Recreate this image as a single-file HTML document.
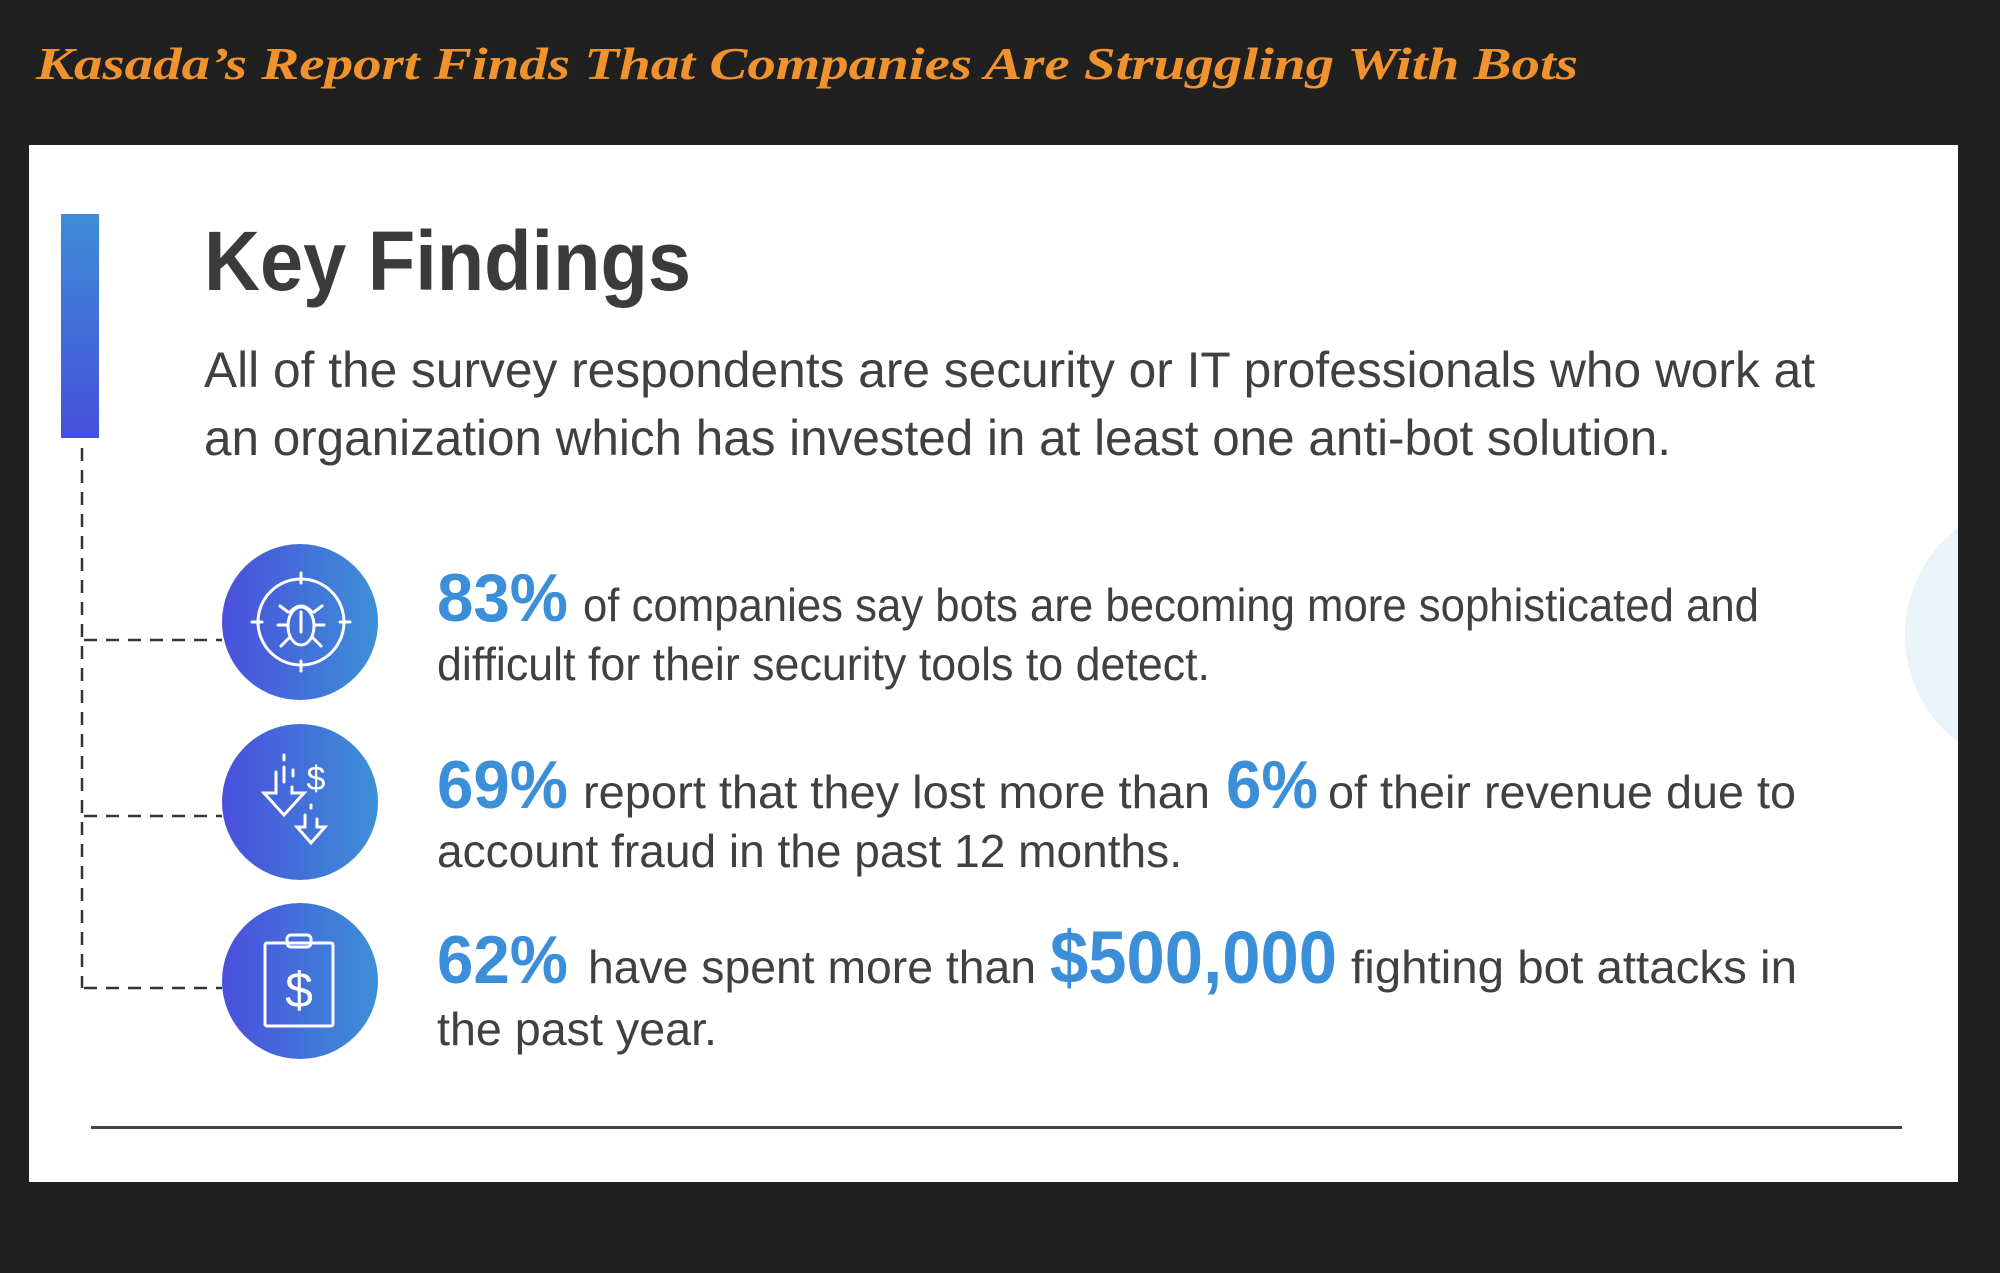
<!DOCTYPE html>
<html><head><meta charset="utf-8"><style>html,body{margin:0;padding:0;background:#1f201f}svg{display:block}</style></head>
<body>
<svg width="2000" height="1273" viewBox="0 0 2000 1273" xmlns="http://www.w3.org/2000/svg">
<defs>
<linearGradient id="bar" x1="0" y1="0" x2="0" y2="1"><stop offset="0" stop-color="#3d8dd6"/><stop offset="1" stop-color="#4650dc"/></linearGradient>
<linearGradient id="circ" x1="0" y1="0" x2="1" y2="0"><stop offset="0" stop-color="#4a4fdd"/><stop offset="1" stop-color="#3c90d6"/></linearGradient>
<clipPath id="panel"><rect x="29" y="145" width="1929" height="1037"/></clipPath>
</defs>
<rect width="2000" height="1273" fill="#1f201f"/>
<text x="36" y="79" font-family="Liberation Serif, serif" font-weight="bold" font-style="italic" font-size="46" fill="#f0922e" textLength="1542" lengthAdjust="spacingAndGlyphs">Kasada’s Report Finds That Companies Are Struggling With Bots</text>
<rect x="29" y="145" width="1929" height="1037" fill="#fff"/>
<circle cx="2040" cy="635" r="135" fill="#e8f3fa" clip-path="url(#panel)"/>
<rect x="61" y="214" width="38" height="224" fill="url(#bar)"/>
<g stroke="#333" stroke-width="2.5" stroke-dasharray="13 9" fill="none">
<line x1="82" y1="448" x2="82" y2="988"/>
<line x1="84" y1="640" x2="222" y2="640"/>
<line x1="84" y1="816" x2="222" y2="816"/>
<line x1="84" y1="988" x2="222" y2="988"/>
</g>
<g fill="url(#circ)">
<circle cx="300" cy="622" r="78"/><circle cx="300" cy="802" r="78"/><circle cx="300" cy="981" r="78"/>
</g>
<g stroke="#fff" stroke-width="3" fill="none" stroke-linecap="round">
<circle cx="301" cy="622" r="43"/>
<line x1="301" y1="573" x2="301" y2="583"/><line x1="301" y1="661" x2="301" y2="671"/>
<line x1="252" y1="622" x2="262" y2="622"/><line x1="340" y1="622" x2="350" y2="622"/>
<ellipse cx="301" cy="626" rx="13" ry="19"/><path d="M290 612 q11 -12 22 0"/>
<line x1="301" y1="612" x2="301" y2="632"/>
<path d="M288 612 l-8 -6 M314 612 l8 -6 M288 625 h-10 M314 625 h10 M289 638 l-8 8 M313 638 l8 8"/>
<path d="M276 775 v18 h-12 l20 22 l20 -22 h-12 v-6"/>
<path d="M305 815 v12 h-8 l14 16 l14 -16 h-8 v-8"/>
<line x1="284" y1="755" x2="284" y2="760"/><line x1="284" y1="767" x2="284" y2="782"/>
<line x1="293" y1="770" x2="293" y2="776"/><line x1="276" y1="772" x2="276" y2="774"/>
<line x1="311" y1="805" x2="311" y2="808"/>
<text x="316" y="790" font-family="Liberation Sans, sans-serif" font-size="34" fill="#fff" stroke="none" text-anchor="middle">$</text>
<rect x="265" y="943" width="68" height="83" rx="2"/>
<rect x="287" y="935" width="24" height="12" rx="4"/>
</g>
<text x="299" y="1007" font-family="Liberation Sans, sans-serif" font-size="50" fill="#fff" text-anchor="middle">$</text>
<text x="204" y="290" font-family="Liberation Sans, sans-serif" font-weight="bold" font-size="84" fill="#3b3b3b" textLength="487" lengthAdjust="spacingAndGlyphs">Key Findings</text>
<g font-family="Liberation Sans, sans-serif" fill="#404040">
<text x="204" y="387" font-size="50" textLength="1611" lengthAdjust="spacingAndGlyphs">All of the survey respondents are security or IT professionals who work at</text>
<text x="204" y="455" font-size="50" textLength="1467" lengthAdjust="spacingAndGlyphs">an organization which has invested in at least one anti-bot solution.</text>
<text x="437" y="621" font-size="68" font-weight="bold" fill="#3b8fd8" textLength="131" lengthAdjust="spacingAndGlyphs">83%</text>
<text x="583" y="621" font-size="46" textLength="1176" lengthAdjust="spacingAndGlyphs">of companies say bots are becoming more sophisticated and</text>
<text x="437" y="680" font-size="46" textLength="773" lengthAdjust="spacingAndGlyphs">difficult for their security tools to detect.</text>
<text x="437" y="808" font-size="68" font-weight="bold" fill="#3b8fd8" textLength="131" lengthAdjust="spacingAndGlyphs">69%</text>
<text x="583" y="808" font-size="46" textLength="627" lengthAdjust="spacingAndGlyphs">report that they lost more than</text>
<text x="1226" y="808" font-size="68" font-weight="bold" fill="#3b8fd8" textLength="92" lengthAdjust="spacingAndGlyphs">6%</text>
<text x="1328" y="808" font-size="46" textLength="468" lengthAdjust="spacingAndGlyphs">of their revenue due to</text>
<text x="437" y="867" font-size="46" textLength="745" lengthAdjust="spacingAndGlyphs">account fraud in the past 12 months.</text>
<text x="437" y="983" font-size="68" font-weight="bold" fill="#3b8fd8" textLength="131" lengthAdjust="spacingAndGlyphs">62%</text>
<text x="588" y="983" font-size="46" textLength="448" lengthAdjust="spacingAndGlyphs">have spent more than</text>
<text x="1050" y="983" font-size="74" font-weight="bold" fill="#3b8fd8" textLength="287" lengthAdjust="spacingAndGlyphs">$500,000</text>
<text x="1351" y="983" font-size="46" textLength="446" lengthAdjust="spacingAndGlyphs">fighting bot attacks in</text>
<text x="437" y="1045" font-size="46" textLength="280" lengthAdjust="spacingAndGlyphs">the past year.</text>
</g>
<rect x="91" y="1126" width="1811" height="3" fill="#444"/>
</svg>
</body></html>
